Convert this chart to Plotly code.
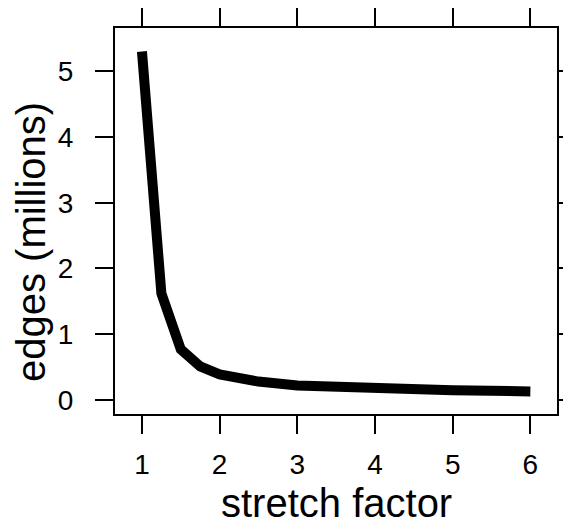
import plotly.graph_objects as go

stretch = [1, 1.25, 1.5, 1.75, 2, 2.5, 3, 4, 5, 6]
edges_millions = [5.3, 1.62, 0.77, 0.51, 0.39, 0.28, 0.22, 0.17, 0.15, 0.13]
x_ticks = [1, 2, 3, 4, 5, 6]
y_ticks = [0, 1, 2, 3, 4, 5]

W, H = 563, 518
L, R, T, B = 115, 6, 28, 104

fig = go.Figure()
fig.add_trace(go.Scatter(x=stretch, y=edges_millions, mode="lines",
                         line=dict(color="black", width=10), hoverinfo="skip"))

font = "Liberation Sans, Arial, Helvetica, sans-serif"
axis_common = dict(showline=True, linecolor="black", linewidth=2, mirror="allticks",
                   ticks="outside", ticklen=18, tickwidth=2, tickcolor="black",
                   showgrid=False, zeroline=False, automargin=False,
                   tickfont=dict(family=font, size=28, color="black"))
fig.update_xaxes(range=[0.653, 6.343], tickvals=x_ticks, ticklabelstandoff=6, **axis_common)
fig.update_yaxes(range=[-0.213, 5.657], tickvals=y_ticks, ticklabelstandoff=16, **axis_common)

pw, ph = W - L - R, H - T - B
fig.add_annotation(text="stretch factor", xref="paper", yref="paper",
                   x=0.5, y=(H - B - 503) / ph, xanchor="center", yanchor="middle",
                   showarrow=False, font=dict(family=font, size=40, color="black"))
fig.add_annotation(text="edges (millions)", xref="paper", yref="paper",
                   x=(31 - L) / pw, y=(H - B - 242) / ph, xanchor="center", yanchor="middle",
                   textangle=-90, showarrow=False, font=dict(family=font, size=40, color="black"))

fig.update_layout(width=W, height=H, margin=dict(l=L, r=R, t=T, b=B),
                  paper_bgcolor="white", plot_bgcolor="white", showlegend=False)
fig.write_html("out.html")
